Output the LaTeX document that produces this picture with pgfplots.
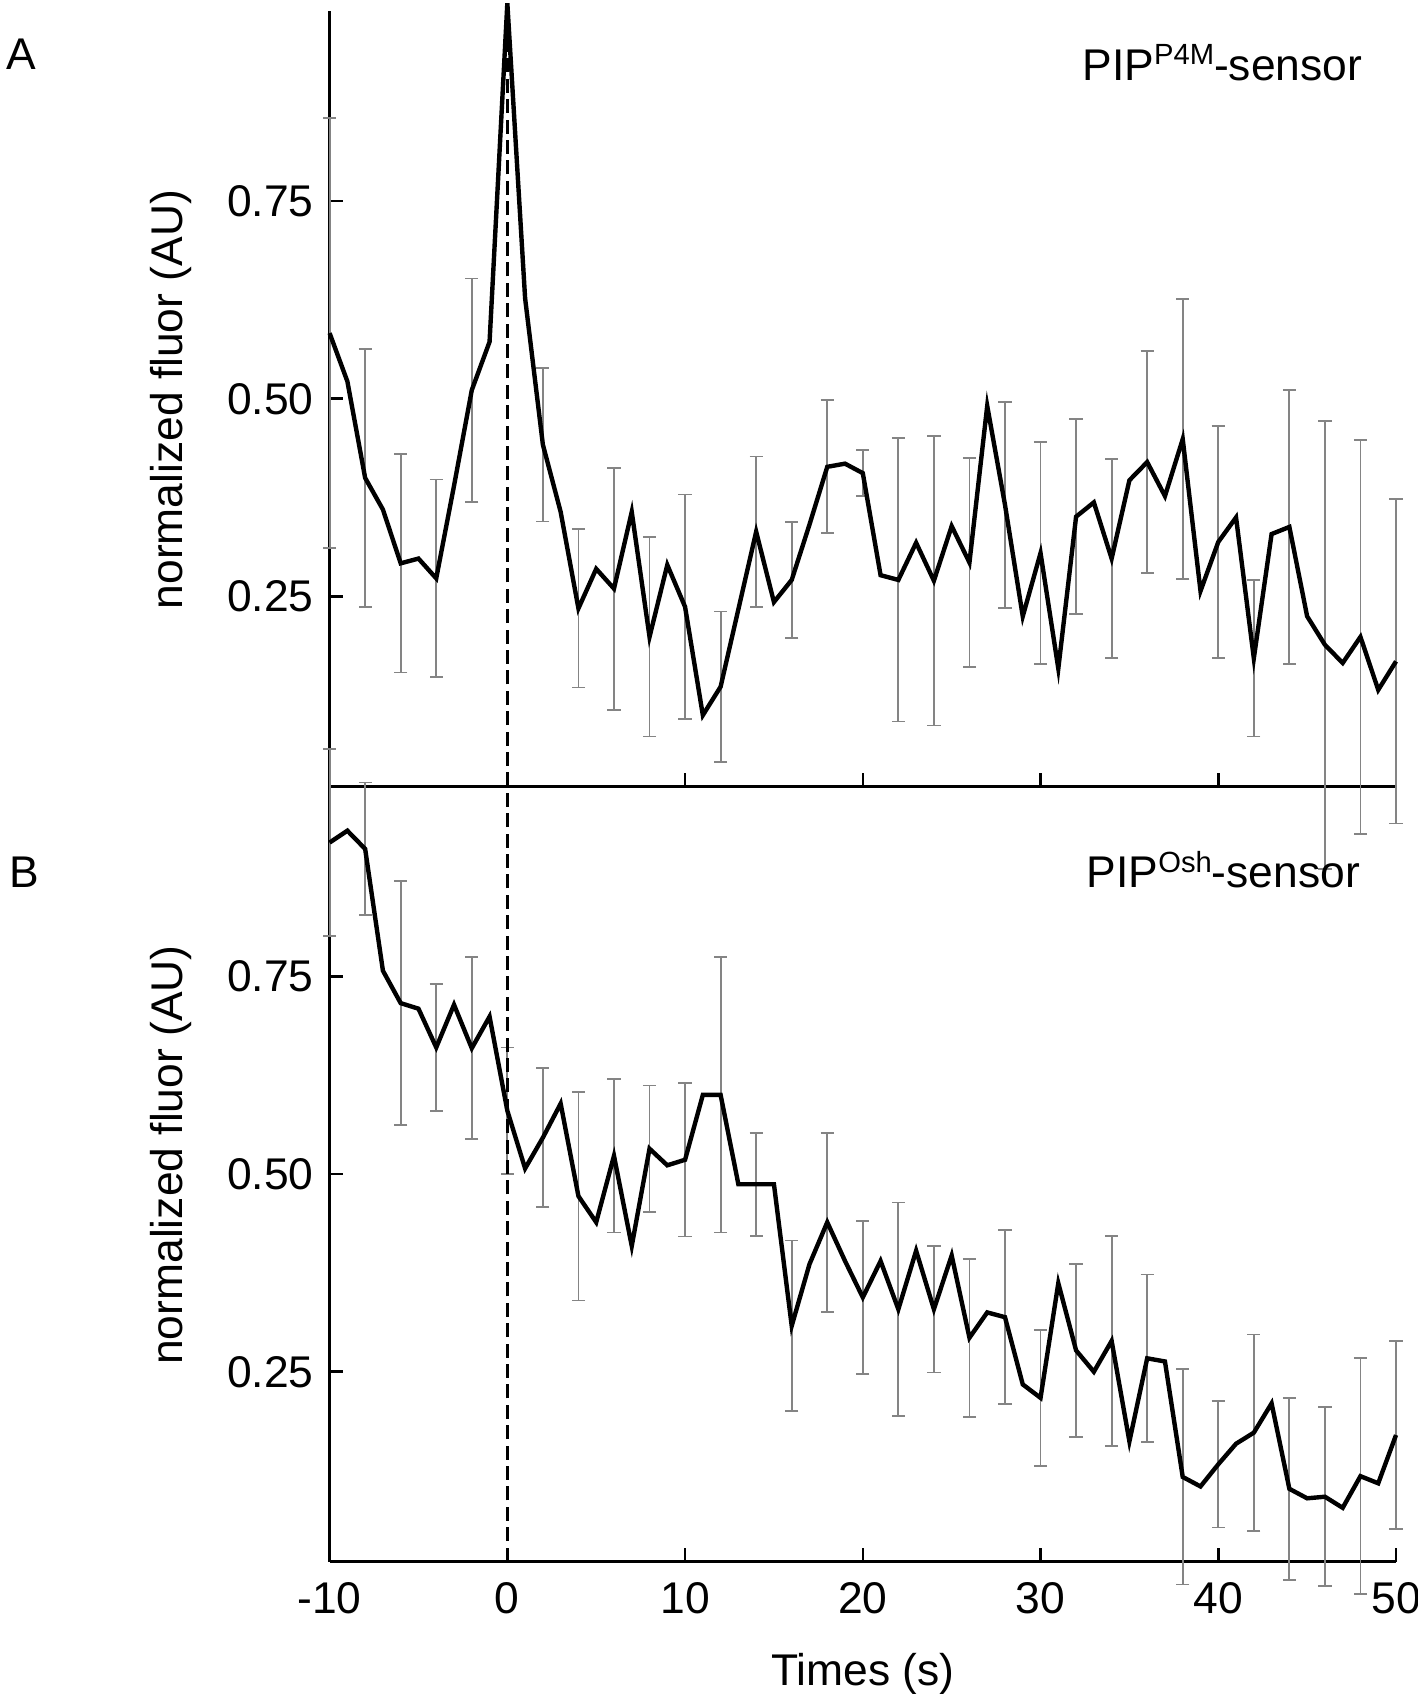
\documentclass[border=0pt]{standalone}
\usepackage{fontspec}
\setmainfont{Liberation Sans}
\usepackage{pgfplots}
\pgfplotsset{compat=1.18}
\usepackage{pgfplotstable}

\definecolor{errgray}{RGB}{132,132,132}
\newcommand\fsz{\fontsize{11.1bp}{13bp}\selectfont}
\newcommand\supf{\fontsize{7.3bp}{8bp}\selectfont}

% panel A: PIP P4M sensor
\pgfplotstableread{
t v
-10 0.583
-9 0.522
-8 0.400
-7 0.360
-6 0.292
-5 0.298
-4 0.273
-3 0.390
-2 0.511
-1 0.572
0 1.000
1 0.627
2 0.442
3 0.357
4 0.235
5 0.285
6 0.260
7 0.357
8 0.199
9 0.290
10 0.237
11 0.100
12 0.136
13 0.234
14 0.332
15 0.243
16 0.271
17 0.341
18 0.414
19 0.418
20 0.406
21 0.277
22 0.271
23 0.318
24 0.270
25 0.339
26 0.293
27 0.491
28 0.366
29 0.225
30 0.305
31 0.159
32 0.351
33 0.369
34 0.298
35 0.397
36 0.420
37 0.377
38 0.449
39 0.257
40 0.319
41 0.350
42 0.172
43 0.329
44 0.338
45 0.225
46 0.189
47 0.166
48 0.199
49 0.132
50 0.168
}\lineA

\pgfplotstableread{
t v e
-10 0.583 0.272
-8 0.400 0.163
-6 0.292 0.138
-4 0.273 0.125
-2 0.511 0.141
2 0.442 0.097
4 0.235 0.100
6 0.260 0.153
8 0.199 0.126
10 0.237 0.142
12 0.136 0.095
14 0.332 0.095
16 0.271 0.073
18 0.414 0.084
20 0.406 0.029
22 0.271 0.179
24 0.270 0.183
26 0.293 0.132
28 0.366 0.130
30 0.305 0.140
32 0.351 0.123
34 0.298 0.126
36 0.420 0.140
38 0.449 0.177
40 0.319 0.147
42 0.172 0.099
44 0.338 0.173
46 0.189 0.283
48 0.199 0.249
50 0.168 0.205
}\errA

% panel B: PIP Osh sensor
\pgfplotstableread{
t v
-10 0.919
-9 0.934
-8 0.911
-7 0.757
-6 0.716
-5 0.709
-4 0.660
-3 0.714
-2 0.659
-1 0.699
0 0.580
1 0.507
2 0.546
3 0.589
4 0.472
5 0.439
6 0.523
7 0.409
8 0.532
9 0.511
10 0.518
11 0.600
12 0.600
13 0.487
14 0.487
15 0.487
16 0.308
17 0.386
18 0.439
19 0.390
20 0.344
21 0.390
22 0.329
23 0.403
24 0.329
25 0.397
26 0.293
27 0.325
28 0.319
29 0.234
30 0.217
31 0.362
32 0.277
33 0.250
34 0.289
35 0.162
36 0.267
37 0.263
38 0.117
39 0.105
40 0.133
41 0.159
42 0.173
43 0.210
44 0.102
45 0.090
46 0.092
47 0.078
48 0.118
49 0.109
50 0.170
}\lineB

\pgfplotstableread{
t v e
-10 0.919 0.118
-8 0.911 0.084
-6 0.716 0.154
-4 0.660 0.080
-2 0.659 0.115
0 0.580 0.080
2 0.546 0.088
4 0.472 0.132
6 0.523 0.097
8 0.532 0.080
10 0.518 0.097
12 0.600 0.174
14 0.487 0.065
16 0.308 0.108
18 0.439 0.113
20 0.344 0.097
22 0.329 0.135
24 0.329 0.080
26 0.293 0.100
28 0.319 0.110
30 0.217 0.086
32 0.277 0.109
34 0.289 0.133
36 0.267 0.106
38 0.117 0.136
40 0.133 0.080
42 0.173 0.124
44 0.102 0.115
46 0.092 0.113
48 0.118 0.149
50 0.170 0.119
}\errB

\pgfplotsset{
  panel/.style={
    scale only axis, width=266.6bp, height=193.8bp,
    xmin=-10, xmax=50, ymin=0.01, ymax=0.99,
    axis x line*=bottom, axis y line*=left, tick pos=left,
    clip=false,
    tick align=inside, major tick length=3.3bp,
    axis line style={line width=0.65bp, black},
    tick style={line width=0.65bp, black},
    xtick={-10,0,10,20,30,40,50},
    ytick={0.25,0.5,0.75}, yticklabels={0.25,0.50,0.75},
    tick label style={font=\fsz},
    yticklabel style={xshift=-0.5bp},
    xticklabel style={yshift=-1.8bp},
  },
  ebars/.style={draw=none, forget plot,
    error bars/.cd, y dir=both, y explicit,
    error bar style={draw=errgray, line width=0.45bp},
    error mark options={rotate=90, draw=errgray, mark size=1.65bp, line width=0.45bp}},
  trace/.style={black, line width=1.1bp, mark=none},
  zeroline/.style={black, line width=0.65bp, dash pattern=on 3.5bp off 1.6bp, mark=none},
}

\begin{document}
\begin{tikzpicture}
\useasboundingbox (0,0) rectangle (354.5bp,423.5bp);

\begin{axis}[panel, at={(82.4bp,226.9bp)}, anchor=south west, xticklabels={}]
\addplot[ebars] table[x=t, y=v, y error=e] {\errA};
\addplot[zeroline] coordinates {(0,0.01) (0,0.99)};
\addplot[trace] table[x=t, y=v] {\lineA};
\end{axis}

\begin{axis}[panel, at={(82.4bp,33.1bp)}, anchor=south west,
  xticklabels={-10,0,10,20,30,40,50}]
\addplot[ebars] table[x=t, y=v, y error=e] {\errB};
\addplot[zeroline] coordinates {(0,0.01) (0,0.99)};
\addplot[trace] table[x=t, y=v] {\lineB};
\end{axis}

\node[font=\fsz, inner sep=0, anchor=base west] at (1.35bp,406bp) {A};
\node[font=\fsz, inner sep=0, anchor=base west] at (2.1bp,201.5bp) {B};
\node[font=\fsz, inner sep=0, anchor=base east] at (340.75bp,403.25bp)
  {PIP\raisebox{0.36em}{\supf P4M}-sensor};
\node[font=\fsz, inner sep=0, anchor=base east] at (340.2bp,201.5bp)
  {PIP\raisebox{0.36em}{\supf Osh}-sensor};
\node[font=\fsz, inner sep=0, anchor=base, rotate=90] at (45.5bp,323.6bp)
  {normalized fluor (AU)};
\node[font=\fsz, inner sep=0, anchor=base, rotate=90] at (45.5bp,134.75bp)
  {normalized fluor (AU)};
\node[font=\fsz, inner sep=0, anchor=base] at (215.75bp,2.25bp) {Times (s)};
\end{tikzpicture}
\end{document}
